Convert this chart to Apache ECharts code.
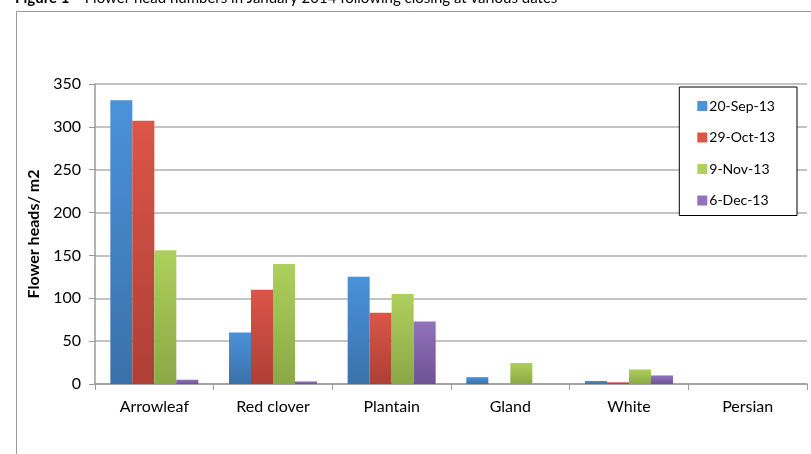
<!DOCTYPE html>
<html>
<head>
<meta charset="utf-8">
<script src="https://cdn.jsdelivr.net/npm/echarts@6/dist/echarts.min.js"></script>
<style>
  html, body { margin: 0; padding: 0; background: #fff; }
  #chart { width: 811px; height: 454px; }
</style>
</head>
<body>
<div id="chart"></div>
<script>
var categories = ['Arrowleaf', 'Red clover', 'Plantain', 'Gland', 'White', 'Persian'];
var seriesNames = ['20-Sep-13', '29-Oct-13', '9-Nov-13', '6-Dec-13'];
var sep20 = [331, 60, 125, 8, 3.5, 0];
var oct29 = [307, 110, 83, 0, 2, 0];
var nov9 = [156, 140, 105, 24.5, 17, 0];
var dec6 = [5, 3, 73, 0, 10, 0];
var yTicks = [0, 50, 100, 150, 200, 250, 300, 350];

var colors = [
  ['#4a92da', '#3a71aa'],
  ['#dc5549', '#ad3f35'],
  ['#aed05c', '#8aa845'],
  ['#9272bc', '#6e5394']
];
var values = [sep20, oct29, nov9, dec6];

function grad(c) {
  return new echarts.graphic.LinearGradient(0, 0, 0, 1, [
    { offset: 0, color: c[0] },
    { offset: 1, color: c[1] }
  ]);
}

var font = 'Lato, "Open Sans", sans-serif';
var chart = echarts.init(document.getElementById('chart'));

var series = seriesNames.map(function (name, i) {
  return {
    name: name,
    type: 'bar',
    data: values[i],
    barWidth: 22,
    barGap: '0%',
    itemStyle: { color: grad(colors[i]) }
  };
});

chart.setOption({
  animation: false,
  title: {
    text: '{b|Figure 1}    Flower head numbers in January 2014 following closing at various dates',
    left: 10,
    top: -14,
    textStyle: {
      fontFamily: font,
      fontSize: 15,
      fontWeight: 'normal',
      color: '#000',
      rich: { b: { fontFamily: font, fontSize: 15, fontWeight: 'bold', color: '#000' } }
    }
  },
  graphic: [{
    type: 'rect',
    shape: { x: 16.5, y: 11.5, width: 820, height: 460 },
    style: { fill: 'none', stroke: '#999', lineWidth: 1 },
    silent: true
  }],
  legend: {
    orient: 'vertical',
    right: 14,
    top: 87,
    padding: [12, 22, 8, 18],
    itemGap: 17.5,
    itemWidth: 10,
    itemHeight: 10,
    icon: 'rect',
    borderColor: '#000',
    borderWidth: 1,
    backgroundColor: '#fff',
    data: seriesNames.map(function (n, i) {
      return { name: n, itemStyle: { color: colors[i][0] } };
    }),
    textStyle: { fontFamily: font, fontSize: 14, color: '#000', padding: [0, 0, 0, -3] }
  },
  grid: { left: 95, right: 4, top: 84, bottom: 70, containLabel: false },
  xAxis: {
    type: 'category',
    data: categories,
    axisLine: { lineStyle: { color: '#9a9a9a', width: 1.5 } },
    axisTick: { show: true, length: 6, lineStyle: { color: '#9a9a9a' } },
    axisLabel: { fontFamily: font, fontSize: 16, color: '#000', margin: 15 }
  },
  yAxis: {
    type: 'value',
    min: 0,
    max: 350,
    interval: 50,
    name: 'Flower heads/ m2',
    nameLocation: 'middle',
    nameGap: 50,
    nameTextStyle: { fontFamily: font, fontSize: 16, fontWeight: 'bold', color: '#000' },
    axisLine: { show: true, lineStyle: { color: '#9a9a9a', width: 1.5 } },
    axisTick: { show: true, length: 6, lineStyle: { color: '#9a9a9a' } },
    splitLine: { lineStyle: { color: '#b0b0b0', width: 1.5 } },
    axisLabel: {
      fontFamily: font, fontSize: 16, color: '#000', margin: 14,
      formatter: function (v) { return yTicks.indexOf(v) >= 0 ? String(v) : ''; }
    }
  },
  series: series
});

window.addEventListener('resize', function () { chart.resize(); });
</script>
</body>
</html>
